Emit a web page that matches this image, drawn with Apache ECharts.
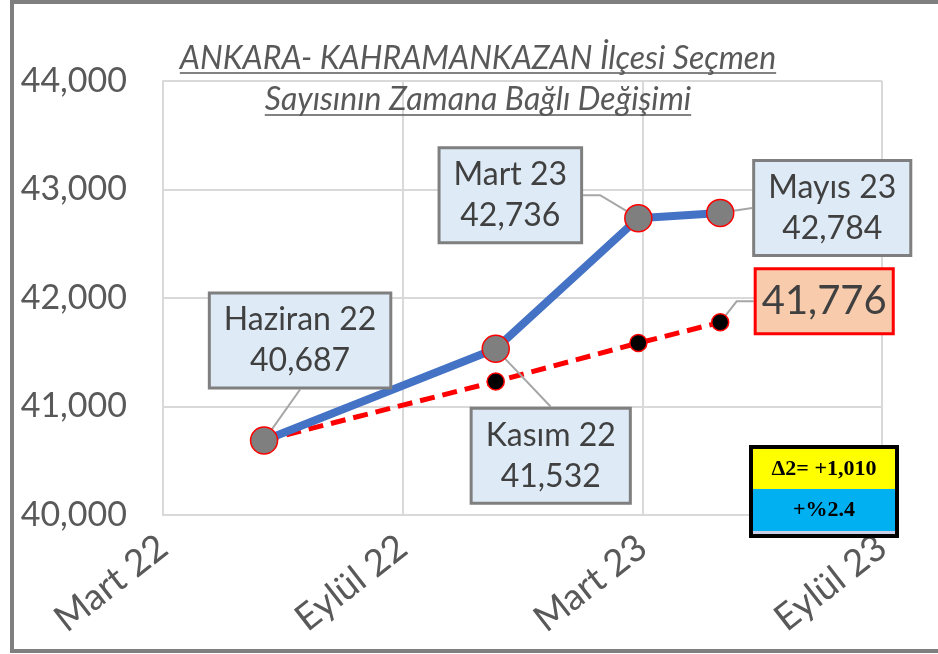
<!DOCTYPE html>
<html>
<head>
<meta charset="utf-8">
<script src="https://cdn.jsdelivr.net/npm/echarts@6/dist/echarts.min.js"></script>
<style>
html, body { margin: 0; padding: 0; background: #fff; }
#chart { width: 938px; height: 654px; }
</style>
</head>
<body>
<div id="chart"></div>
<script>
// tick labels of the date axis, one every 6 months from Mart 22
const xTickLabels = ['Mart 22', 'Eylül 22', 'Mart 23', 'Eylül 23'];
const pointNames = ['Haziran 22', 'Kasım 22', 'Mart 23', 'Mayıs 23'];
// months after Mart 22
const pointMonths = [2.53, 8.33, 11.9, 13.95];
const voters = [40687, 41532, 42736, 42784];
const trend = [40687, 41230, 41585, 41776];
const titleLines = ['ANKARA- KAHRAMANKAZAN İlçesi Seçmen', 'Sayısının Zamana Bağlı Değişimi'];
const deltaLines = ['Δ2= +1,010', '+%2.4'];

// where each label box sits, relative to its point
const voterLabelOffset = [[36, -100], [55, 107], [-128, -23], [112, -5]];
const voterLeaderBend = [0, 0, 17, 0];
const trendLabelOffset = [104, -21];

const fmt = v => v.toLocaleString('en-US');
const FONT = 'Lato';

const chart = echarts.init(document.getElementById('chart'));

// title with underline: measure the text so the line fits it
const ctx = document.createElement('canvas').getContext('2d');
const titleFont = 'italic 32px ' + FONT;
ctx.font = titleFont;
const titleCx = 478;
const titleMid = [59, 100];
const titleUnder = [73, 115];
const titleGraphics = [];
titleLines.forEach((t, i) => {
	const w = ctx.measureText(t).width;
	titleGraphics.push({
		type: 'text', x: titleCx, y: titleMid[i], z: 100,
		style: { text: t, font: titleFont, fill: '#595959', align: 'center', verticalAlign: 'middle' }
	});
	titleGraphics.push({
		type: 'line', z: 100,
		shape: { x1: titleCx - w / 2, y1: titleUnder[i], x2: titleCx + w / 2, y2: titleUnder[i] },
		style: { stroke: '#595959', lineWidth: 1.5 }
	});
});

const boxFont = 'bold 22px "Liberation Serif"';

chart.setOption({
	animation: false,
	grid: { left: 163, right: 56, top: 81, bottom: 139 },
	xAxis: {
		type: 'value', min: 0, max: 18, interval: 6,
		axisLine: { show: true, lineStyle: { color: '#d9d9d9', width: 2 } },
		axisTick: { show: false },
		splitLine: { show: true, lineStyle: { color: '#d9d9d9', width: 2 } },
		axisLabel: {
			formatter: v => xTickLabels[Math.round(v / 6)],
			rotate: 38, margin: 28,
			fontFamily: FONT, fontSize: 37, color: '#595959'
		}
	},
	yAxis: {
		type: 'value', min: 40000, max: 44000, interval: 1000,
		axisLine: { show: true, lineStyle: { color: '#d9d9d9', width: 2 } },
		axisTick: { show: false },
		splitLine: { show: true, lineStyle: { color: '#d9d9d9', width: 2 } },
		axisLabel: { formatter: fmt, margin: 36, fontFamily: FONT, fontSize: 34, color: '#595959' }
	},
	series: [
		{
			name: 'trend', type: 'line',
			data: trend.map((v, i) => {
				const item = { value: [pointMonths[i], v] };
				if (i === trend.length - 1) {
					item.label = {
						show: true, formatter: p => fmt(p.value[1]),
						fontFamily: FONT, fontSize: 40, lineHeight: 48, color: '#404040',
						backgroundColor: '#F8CBAD', borderColor: '#ff0000', borderWidth: 3,
						padding: [7, 5, 7, 5]
					};
				}
				return item;
			}),
			symbol: 'circle', symbolSize: 17,
			itemStyle: { color: '#000', borderColor: '#ff0000', borderWidth: 1.5 },
			lineStyle: { color: '#ff0000', width: 5, type: [15, 8] },
			label: { show: false },
			labelLine: { show: true, length2: 17, lineStyle: { color: '#a6a6a6', width: 2 } },
			labelLayout: p => ({
				x: p.rect.x + p.rect.width / 2 + trendLabelOffset[0],
				y: p.rect.y + p.rect.height / 2 + trendLabelOffset[1],
				align: 'center', verticalAlign: 'middle'
			})
		},
		{
			name: 'voters', type: 'line',
			data: voters.map((v, i) => ({
				value: [pointMonths[i], v], name: pointNames[i],
				labelLine: { length2: voterLeaderBend[i] }
			})),
			symbol: 'circle', symbolSize: 27,
			itemStyle: { color: '#7f7f7f', borderColor: '#ff0000', borderWidth: 1.5 },
			lineStyle: { color: '#4472C4', width: 8 },
			label: {
				show: true,
				formatter: p => p.name + '\n' + fmt(p.value[1]),
				fontFamily: FONT, fontSize: 32, lineHeight: 41, color: '#404040',
				backgroundColor: '#DEEBF7', borderColor: '#7f7f7f', borderWidth: 3,
				padding: [6, 13, 4, 13], align: 'center'
			},
			labelLine: { show: true, lineStyle: { color: '#a6a6a6', width: 2 } },
			labelLayout: p => ({
				x: p.rect.x + p.rect.width / 2 + voterLabelOffset[p.dataIndex][0],
				y: p.rect.y + p.rect.height / 2 + voterLabelOffset[p.dataIndex][1],
				align: 'center', verticalAlign: 'middle'
			})
		}
	],
	graphic: titleGraphics.concat([
		{ type: 'rect', z: 100, shape: { x: 12, y: 2, width: 940, height: 649 }, style: { fill: 'none', stroke: '#7f7f7f', lineWidth: 4 }, silent: true },
		{ type: 'rect', z: 100, shape: { x: 751, y: 447, width: 146, height: 89 }, style: { fill: '#c9cfe6', stroke: '#000', lineWidth: 4 } },
		{ type: 'rect', z: 101, shape: { x: 753, y: 449, width: 142, height: 40 }, style: { fill: '#ffff00' } },
		{ type: 'rect', z: 101, shape: { x: 753, y: 489, width: 142, height: 42 }, style: { fill: '#00b0f0' } },
		{ type: 'text', z: 102, x: 824, y: 469, style: { text: deltaLines[0], font: boxFont, fill: '#000', align: 'center', verticalAlign: 'middle' } },
		{ type: 'text', z: 102, x: 824, y: 510, style: { text: deltaLines[1], font: boxFont, fill: '#000', align: 'center', verticalAlign: 'middle' } }
	])
});
</script>
</body>
</html>
